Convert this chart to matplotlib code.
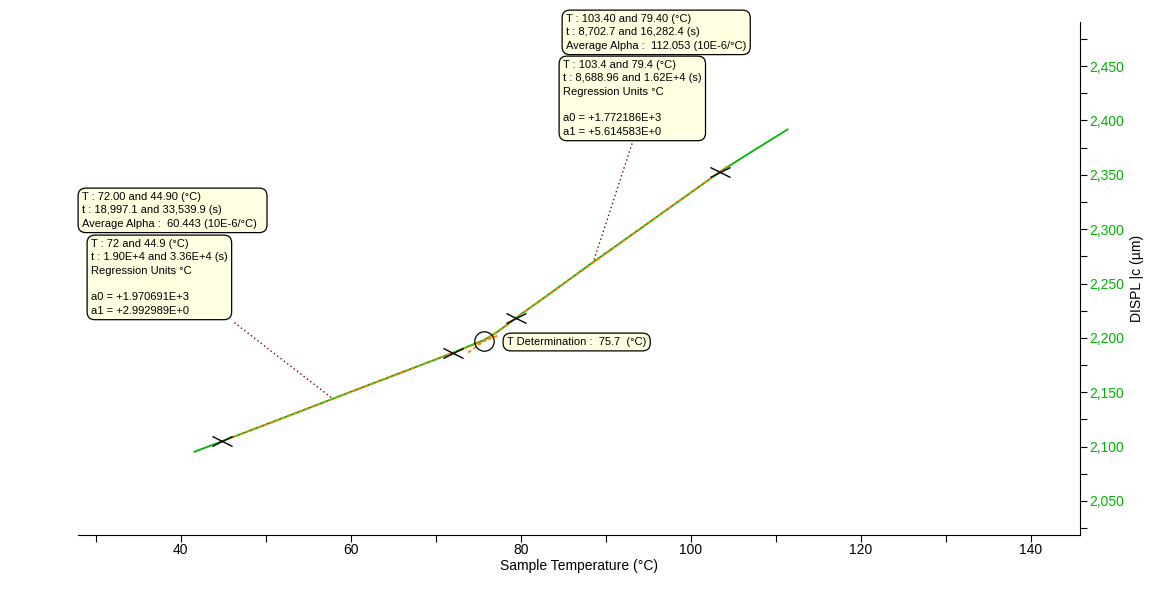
import matplotlib
matplotlib.use("Agg")
import matplotlib.pyplot as plt
from matplotlib.path import Path
import numpy as np

plt.rcParams['font.family'] = ['Liberation Sans', 'DejaVu Sans']

# measured curve (sample temperature, displacement)
temp = [41.6, 45, 50, 55, 60, 65, 70, 72, 74, 75.7, 77, 78.5, 80, 84, 88, 92, 96, 100, 103.4, 107, 111.4]
displ = [2095.2, 2105.4, 2120.3, 2135.3, 2150.4, 2165.3, 2180.2, 2186.3, 2192.8, 2198.0, 2204.2,
         2212.6, 2221.6, 2244.0, 2266.8, 2289.0, 2311.3, 2333.5, 2352.6, 2370.4, 2391.7]

# regression fits
low_a0, low_a1 = 1970.691, 2.992989
high_a0, high_a1 = 1772.186, 5.614583
low_range = [44.9, 77.5]
high_range = [73.8, 104.5]
cursor_T = [44.9, 72.0, 79.4, 103.4]
t_det = 75.7

green = '#00b400'
orange = '#ff8000'
boxcol = '#ffffe1'

fig = plt.figure(figsize=(11.59, 5.91), dpi=100)
ax = fig.add_axes([78/1159, 1-535/591, (1080-78)/1159, (535-22)/591])

ax.plot(temp, displ, color=green, lw=1.3, zorder=2)

lx = np.array(low_range)
hx = np.array(high_range)
ax.plot(lx, low_a0 + low_a1*lx, color=orange, lw=1.3, ls=(0, (2, 1.5)), zorder=3)
ax.plot(hx, high_a0 + high_a1*hx, color=orange, lw=1.3, ls=(0, (2, 1.5)), zorder=3)

# cursor crosses
xmark = Path([(-1, -0.5), (1, 0.5), (-1, 0.5), (1, -0.5)],
             [Path.MOVETO, Path.LINETO, Path.MOVETO, Path.LINETO])
cy = [low_a0 + low_a1*cursor_T[0], low_a0 + low_a1*cursor_T[1],
      high_a0 + high_a1*cursor_T[2], high_a0 + high_a1*cursor_T[3]]
ax.plot(cursor_T, cy, ls='none', marker=xmark, ms=14.5, mew=1.0, mec='black', zorder=4)

# transition circle
ty = low_a0 + low_a1*t_det
ax.plot([t_det], [ty], ls='none', marker='o', ms=14, mfc='none', mec='black', mew=0.9, zorder=4)

# leader lines
ax.plot([46.3, 57.8], [2214.0, 2144.5], color='#800000', lw=1, ls=(0, (1, 2)), zorder=1)
ax.plot([93.1, 88.5], [2378.8, 2268.9], color='#800000', lw=1, ls=(0, (1, 2)), zorder=1)

ax.set_xlim(27.9, 145.8)
ax.set_ylim(2018.7, 2490.5)

ax.spines['top'].set_visible(False)
ax.spines['left'].set_visible(False)
ax.yaxis.tick_right()
ax.yaxis.set_label_position('right')

ax.set_xticks(np.arange(40, 141, 20))
ax.set_xticks(np.arange(30, 146, 20), minor=True)
ax.set_yticks(np.arange(2050, 2451, 50))
ax.set_yticks(np.arange(2025, 2476, 50), minor=True)
ax.set_yticklabels(['{:,}'.format(v) for v in range(2050, 2451, 50)])
ax.tick_params(axis='both', which='both', direction='out', length=5, width=0.8, labelsize=10)
ax.tick_params(axis='y', labelcolor=green, pad=2)
ax.tick_params(axis='x', pad=1)

ax.set_xlabel('Sample Temperature (°C)', fontsize=10, labelpad=1)
ax.set_ylabel('DISPL |c (µm)', fontsize=10, labelpad=4)

box = dict(boxstyle='round,pad=0.35,rounding_size=0.7', fc=boxcol, ec='black', lw=0.9)


def note(x, y, s):
    fig.text(x/1159, 1 - y/591, s, fontsize=8, va='top', ha='left', linespacing=1.42, bbox=box, zorder=10)


note(566, 14, 'T : 103.40 and 79.40 (°C)\nt : 8,702.7 and 16,282.4 (s)\nAverage Alpha :  112.053 (10E-6/°C)')
note(563, 60, 'T : 103.4 and 79.4 (°C)\nt : 8,688.96 and 1.62E+4 (s)\nRegression Units °C\n\na0 = +1.772186E+3\na1 = +5.614583E+0')
note(82, 192, 'T : 72.00 and 44.90 (°C)\nt : 18,997.1 and 33,539.9 (s)\nAverage Alpha :  60.443 (10E-6/°C)  ')
note(91, 239, 'T : 72 and 44.9 (°C)\nt : 1.90E+4 and 3.36E+4 (s)\nRegression Units °C\n\na0 = +1.970691E+3\na1 = +2.992989E+0')
note(507, 337, 'T Determination :  75.7  (°C)')

fig.savefig('out.png', dpi=100)
